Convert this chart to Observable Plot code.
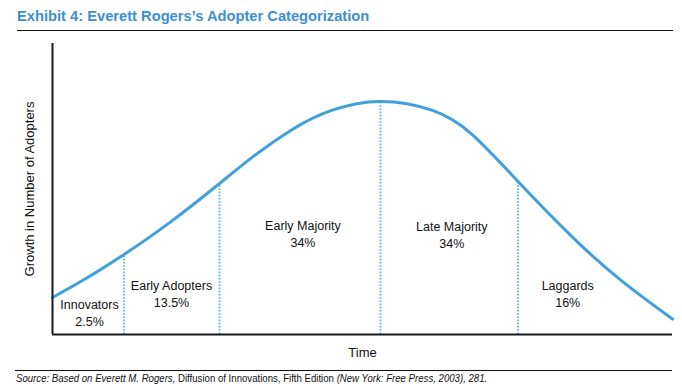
<!DOCTYPE html>
<html>
<head>
<meta charset="utf-8">
<script src="https://cdn.jsdelivr.net/npm/d3@7"></script>
<script src="https://cdn.jsdelivr.net/npm/@observablehq/plot@0.6"></script>
<style>
  html, body { margin: 0; padding: 0; background: #fff; }
  #wrap { position: relative; width: 682px; height: 390px; background: #fff; font-family: Arial, "Liberation Sans", sans-serif; overflow: hidden; }
  #title { position: absolute; left: 17px; top: 8.6px; font-weight: bold; font-size: 14.7px; line-height: 1; color: #3b8fd2; white-space: nowrap; }
  .rule { position: absolute; height: 1.5px; background: #111; }
  #chart { position: absolute; left: 0; top: 32px; }
  #caption { position: absolute; left: 16px; top: 372.5px; font-size: 10.7px; line-height: 1; color: #111; white-space: nowrap; transform: scaleX(0.9); transform-origin: 0 0; }
  #caption i { font-style: italic; }
</style>
</head>
<body>
<div id="wrap">
  <div id="title">Exhibit 4: Everett Rogers’s Adopter Categorization</div>
  <div class="rule" style="left:17px;top:29.5px;width:656px"></div>
  <div id="chart"></div>
  <div class="rule" style="left:15px;top:369.5px;width:657px"></div>
  <div id="caption"><i>Source: Based on Everett M. Rogers, </i>Diffusion of Innovations, Fifth Edition <i>(New York: Free Press, 2003), 281.</i></div>
</div>
<script>
// Curve: time (0-100) vs growth in number of adopters (0-100)
const curveTime   = [0, 5.52, 11.53, 19.11, 26.94, 32.1, 38.55, 45.0, 52.9, 61.3, 67.7, 75.08, 83.9, 91.7, 100];
const curveGrowth = [12.7, 19.4, 27.5, 38.8, 51.9, 60.7, 70.3, 77.0, 80.1, 77.0, 68.7, 52.6, 33.4, 18.6, 5.3];

// Category boundaries (dotted lines)
const breakTime   = [11.53, 26.94, 52.9, 75.08];
const breakGrowth = [27.5, 51.9, 80.1, 52.6];

// Category labels
const categories  = ["Innovators", "Early Adopters", "Early Majority", "Late Majority", "Laggards"];
const shares      = ["2.5%", "13.5%", "34%", "34%", "16%"];
const labelTime   = [5.97, 19.19, 40.4, 64.4, 83.1];
const labelGrowth = [7.56, 14.26, 34.7, 34.4, 14.26];

const curve = curveTime.map((t, i) => ({t, g: curveGrowth[i]}));
const breaks = breakTime.map((t, i) => ({t, g: breakGrowth[i]}));
const labels = categories.map((c, i) => ({t: labelTime[i], g: labelGrowth[i], text: c + "\n" + shares[i]}));

const blue = "#3fa0dc";
const font = 'Arial, "Liberation Sans", sans-serif';

const chart = Plot.plot({
  width: 682,
  height: 332,
  marginLeft: 52,
  marginRight: 10,
  marginTop: 11,
  marginBottom: 30,
  style: {fontFamily: font, background: "transparent", overflow: "visible"},
  x: {domain: [0, 100], axis: null},
  y: {domain: [0, 100], axis: null},
  marks: [
    Plot.ruleX(breaks, {x: "t", y1: 0, y2: "g", stroke: "#4eaae2", strokeWidth: 1.7, strokeDasharray: "1.6,1.6"}),
    Plot.line(curve, {x: "t", y: "g", curve: "natural", stroke: blue, strokeWidth: 3}),
    Plot.ruleX([0], {stroke: "#1a1a1a", strokeWidth: 2}),
    Plot.ruleY([0], {stroke: "#1a1a1a", strokeWidth: 2}),
    Plot.text(labels, {x: "t", y: "g", text: "text", fontSize: 12.5, lineHeight: 1.35, fill: "#111"}),
    Plot.text(["Growth in Number of Adopters"], {frameAnchor: "left", dx: -23, rotate: -90, textAnchor: "middle", fontSize: 13, fill: "#111"}),
    Plot.text(["Time"], {frameAnchor: "bottom", dy: 22, textAnchor: "middle", fontSize: 13, fill: "#111"})
  ]
});
document.getElementById("chart").appendChild(chart);
</script>
</body>
</html>
